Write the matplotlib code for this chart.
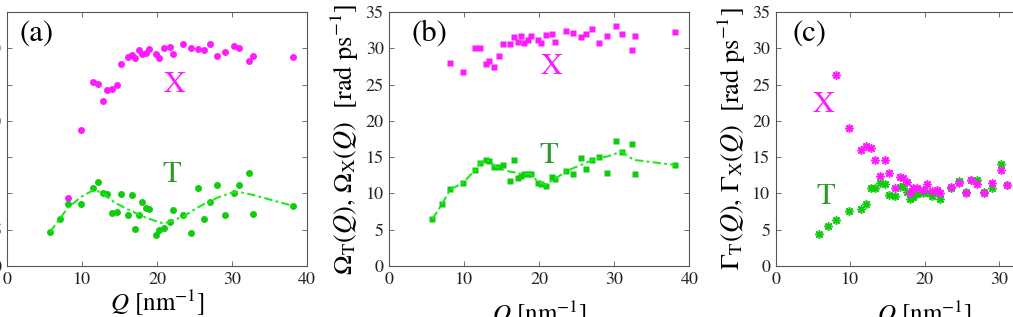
import numpy as np
import matplotlib
matplotlib.use('Agg')
import matplotlib.pyplot as plt

plt.rcParams['font.family'] = 'STIXGeneral'
plt.rcParams['mathtext.fontset'] = 'stix'

# wavevectors Q [nm^-1], shared by all panels
Q = np.array([5.75, 7.02, 8.09, 9.87, 11.42, 12.09, 12.84, 13.35, 14.0, 14.62,
              15.2, 16.07, 16.67, 17.1, 17.56, 18.0, 18.47, 18.95, 19.82, 20.25,
              20.95, 21.7, 22.09, 23.5, 24.55, 25.5, 26.2, 27.07, 28.02, 29.07,
              30.22, 30.98, 32.33, 32.78, 38.07])

# (a)  X starts at Q[2]
a_X = [9.35, 18.8, 25.3, 25.1, 22.7, 24.2, 24.4, 25.0, 27.9, 28.8, 29.1, 28.6,
       29.7, 29.2, 29.4, 29.9, 29.2, 28.7, 30.1, 30.2, 29.2, 30.6, 30.0, 29.9,
       29.8, 30.6, 29.0, 29.5, 30.3, 30.0, 28.3, 28.9, 28.8]
a_T = [4.74, 6.54, 8.48, 8.48, 10.7, 11.56, 10.0, 9.9, 7.28, 7.5, 9.9, 6.96,
       9.8, 5.1, 6.96, 8.84, 7.97, 7.83, 4.33, 4.93, 5.3, 6.0, 7.65, 7.09, 4.6,
       10.78, 6.45, 8.84, 11.1, 6.96, 10.1, 11.1, 12.85, 7.23, 8.29]
a_fit = [4.7, 6.5, 8.0, 9.5, 10.4, 10.3, 10.0, 9.5, 9.0, 8.6, 8.3, 7.8, 7.6,
         7.3, 7.1, 6.9, 6.7, 6.5, 6.2, 6.0, 5.9, 6.1, 6.3, 6.8, 7.5, 8.1, 8.5,
         8.9, 9.4, 9.8, 10.2, 10.2, 9.9, 9.8, 8.3]

# (b)  Omega
b_X = [27.93, 26.78, 30.0, 30.0, 27.85, 28.22, 27.37, 28.9, 30.63, 30.63,
       31.58, 30.9, 31.76, 30.66, 31.2, 31.76, 31.1, 30.72, 31.8, 31.97, 30.92,
       32.43, 32.05, 31.5, 32.0, 32.63, 30.66, 31.65, 33.07, 32.0, 29.78, 31.65,
       32.18]
b_T = [6.5, 8.5, 10.55, 11.47, 13.22, 14.23, 14.6, 14.5, 13.68, 13.68, 13.94,
       11.75, 14.6, 12.15, 12.42, 12.72, 12.7, 12.72, 11.47, 11.33, 11.06, 12.26,
       11.98, 13.04, 12.67, 14.83, 13.4, 14.67, 15.06, 12.88, 17.27, 15.75,
       16.81, 12.67, 13.94]
b_fit = [6.5, 8.5, 10.5, 11.5, 13.2, 14.2, 14.6, 14.5, 13.8, 13.5, 13.3, 13.0,
         12.9, 12.75, 12.7, 12.7, 12.7, 12.6, 11.6, 11.4, 11.25, 11.8, 12.0,
         13.0, 13.5, 13.9, 14.2, 14.6, 14.9, 15.1, 15.5, 15.75, 14.8, 14.6, 13.92]

# (c)  Gamma (only Q up to ~31 visible)
c_X = [26.37, 19.06, 15.98, 16.58, 16.2, 14.6, 12.4, 14.6, 12.77, 10.7, 12.2,
       12.1, 11.55, 10.1, 10.7, 10.7, 10.5, 11.3, 10.4, 10.5, 10.1, 10.9, 11.5,
       10.1, 11.8, 11.3, 10.1, 11.5, 13.2, 11.2]
c_T = [4.47, 5.5, 6.33, 7.6, 7.82, 8.53, 10.7, 10.7, 11.5, 11.3, 9.85, 9.64,
       10.92, 11.0, 10.2, 9.2, 9.5, 9.95, 10.1, 10.2, 9.62, 10.2, 9.3, 10.75,
       11.75, 10.2, 11.8, 11.8, 10.2, 10.75, 14.06, 11.2]

MAG = '#ff1aff'
GRN = '#0fcc0f'
LINE = '#1aeb1a'
TXT_T = '#2e9a2e'
ls_dd = (0, (4.0, 1.6, 1.3, 1.6))

W, H = 1013, 317
fig = plt.figure(figsize=(W / 100, H / 100), dpi=100)
axa = fig.add_axes([7 / W, 51 / H, 300 / W, 254 / H])
axb = fig.add_axes([389.3 / W, 51 / H, 300 / W, 254 / H])
axc = fig.add_axes([775.7 / W, 51 / H, 298 / W, 254 / H])

for ax in (axa, axb, axc):
    ax.set_xlim(0, 40)
    ax.set_ylim(0, 35)
    ax.set_xticks([0, 10, 20, 30, 40])
    ax.set_yticks(np.arange(0, 36, 5))
    ax.tick_params(direction='in', top=True, right=True, length=3.5, width=0.6,
                   color='#555555', labelsize=13, labelcolor='#222222', pad=4)
    for s in ax.spines.values():
        s.set_color('#555555')
        s.set_linewidth(0.8)

# (a)
axa.plot(Q[2:], a_X, 'o', color=MAG, ms=5, mec='none')
axa.plot(Q, a_T, 'o', color=GRN, ms=5, mec='none')
axa.plot(Q, a_fit, ls=ls_dd, color=LINE, lw=1.5, zorder=3)
axa.text(1.7, 32.0, '(a)', fontsize=22, va='center')
axa.text(22.4, 24.9, 'X', color=MAG, fontsize=22, ha='center', va='center')
axa.text(22.0, 12.5, 'T', color=TXT_T, fontsize=22, ha='center', va='center')
axa.set_xlabel(r'$Q$ [nm$^{-1}$]', fontsize=18, labelpad=0)

# (b)
axb.plot(Q[2:], b_X, 's', color=MAG, ms=4, mec='none')
axb.plot(Q, b_T, 's', color=GRN, ms=4, mec='none')
axb.plot(Q, b_fit, ls=ls_dd, color=LINE, lw=1.5, zorder=3)
axb.text(3.0, 32.0, '(b)', fontsize=22, va='center')
axb.text(21.65, 27.35, 'X', color=MAG, fontsize=22, ha='center', va='center')
axb.text(21.2, 15.1, 'T', color=TXT_T, fontsize=22, ha='center', va='center')
axb.set_xlabel(r'$Q$ [nm$^{-1}$]', fontsize=18, labelpad=8)
axb.set_ylabel(r'$\Omega_{\rm T}(Q)$, $\Omega_{\rm X}(Q)$  [rad ps$^{-1}$]',
               fontsize=19, labelpad=3)

# (c)
star = (8, 2, 0)
axc.plot(Q[:len(c_T)], c_T, ls='none', marker=star, color=GRN, ms=6, mew=1.1)
axc.plot(Q[2:2 + len(c_X)], c_X, ls='none', marker=star, color=MAG, ms=6, mew=1.1)
axc.text(2.3, 32.0, '(c)', fontsize=22, va='center')
axc.text(6.5, 22.2, 'X', color=MAG, fontsize=22, ha='center', va='center')
axc.text(6.7, 9.44, 'T', color=TXT_T, fontsize=22, ha='center', va='center')
axc.set_xlabel(r'$Q$ [nm$^{-1}$]', fontsize=18, labelpad=8)
axc.set_ylabel(r'$\Gamma_{\rm T}(Q)$, $\Gamma_{\rm X}(Q)$  [rad ps$^{-1}$]',
               fontsize=19, labelpad=3)

fig.savefig('out.png', dpi=100)
